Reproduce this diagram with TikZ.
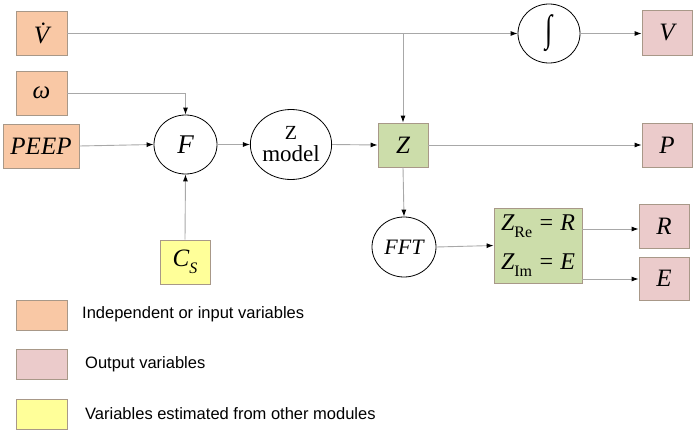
\documentclass[tikz,border=0pt]{standalone}
\usepackage{fontspec}
\setmainfont{Liberation Serif}
\newfontfamily\legendfont{Liberation Sans}
\usetikzlibrary{arrows.meta,calc,shapes.geometric}
\definecolor{inpc}{HTML}{F9C8A5}
\definecolor{outc}{HTML}{EBCBCB}
\definecolor{estc}{HTML}{FFFF99}
\definecolor{midc}{HTML}{CCDDAA}
\definecolor{bordc}{HTML}{A89888}
\definecolor{linec}{HTML}{A8A8A8}
\newcommand{\subsc}[1]{\raisebox{-0.28em}{\fontsize{16}{16}\selectfont #1}}
\tikzset{
  varbox/.style={draw=bordc, line width=0.8pt, minimum height=44pt, inner sep=0pt, font=\fontsize{25}{29}\selectfont\itshape},
  inbox/.style={varbox, fill=inpc},
  outbox/.style={varbox, fill=outc},
  estbox/.style={varbox, fill=estc},
  midbox/.style={varbox, fill=midc},
  opcirc/.style={ellipse, draw=black, line width=0.8pt, inner sep=0pt},
  conn/.style={draw=linec, line width=0.9pt, -{Latex[length=7pt,width=5pt,color=black]}},
  legbox/.style={draw=bordc, line width=0.8pt, minimum width=51pt, minimum height=30pt, inner sep=0pt},
  legtext/.style={anchor=west, font=\legendfont\fontsize{16.5}{19}\selectfont, inner sep=0pt}
}
\begin{document}
\begin{tikzpicture}[x=1pt,y=-1pt]
\useasboundingbox (0,0) rectangle (697,434);
% input boxes
\node[inbox, minimum width=51pt] (Vd) at (41.5,33) {\.V};
\node[inbox, minimum width=51pt] (om) at (41.5,93) {ω};
\node[inbox, minimum width=76pt] (peep) at (41,146) {PEEP};
\node[estbox, minimum width=50pt] (cs) at (185,262) {C\subsc{S}};
% circles
\node[opcirc, minimum width=63pt, minimum height=59pt, font=\fontsize{27}{30}\selectfont\itshape] (F) at (185.5,144.5) {F};
\node[opcirc, minimum width=74pt, minimum height=70pt, align=center, font=\fontsize{23}{22}\selectfont] (zm) at (291,144.5) {{\fontsize{20}{20}\selectfont Z}\\model};
\node[opcirc, minimum width=62pt, minimum height=59pt, font=\fontsize{26}{26}\selectfont] (int) at (549,33.5) {\scalebox{1}[1.45]{∫}};
\node[opcirc, minimum width=64pt, minimum height=60pt, font=\fontsize{22}{24}\selectfont\itshape] (fft) at (404,247) {FFT};
% middle boxes
\node[midbox, minimum width=50pt] (Z) at (403,145) {Z};
\node[midbox, minimum width=88pt, minimum height=75pt, align=left, font=\fontsize{24}{39}\selectfont\itshape] (zre) at (538,245.5) {Z\subsc{\upshape Re} = R\\Z\subsc{\upshape Im} = E};
% outputs
\node[outbox, minimum width=50pt, minimum height=45pt] (V) at (667,32.5) {V};
\node[outbox, minimum width=50pt] (P) at (667,145) {P};
\node[outbox, minimum width=50pt] (R) at (664,226) {R};
\node[outbox, minimum width=50pt, minimum height=43pt] (E) at (664,278.5) {E};
% connectors
\draw[conn] (Vd.east |- int.west) -- (int.west);
\coordinate (br) at (Z.north |- int.west);
\draw[conn] (br) -- (Z.north);
\draw[conn] (int.east) -- (V.west |- int.east);
\draw[conn] (om.east) -| (F.north);
\draw[conn] (peep.east) -- (F.west);
\draw[conn] (cs.north) -- (F.south);
\draw[conn] (F.east) -- (zm.west);
\draw[conn] (zm.east) -- (Z.west);
\draw[conn] (Z.east) -- (P.west);
\draw[conn] (Z.south) -- (fft.north);
\draw[conn] (fft.east) -- (zre.west);
\coordinate (rout) at ($(zre.east)+(0,-16.5)$);
\coordinate (eout) at ($(zre.east)+(0,33.5)$);
\draw[conn] (rout) -- (R.west |- rout);
\draw[conn] (eout) -- (E.west |- eout);
% legend
\node[legbox, fill=inpc] (l1) at (41.5,315) {};
\node[legtext] (t1) at (82,314) {Independent or input variables};
\node[legbox, fill=outc] (l2) at (41.5,364) {};
\node[legtext] (t2) at (85,364) {Output variables};
\node[legbox, fill=estc] (l3) at (41.5,414) {};
\node[legtext] (t3) at (85,414) {Variables estimated from other modules};
\end{tikzpicture}
\end{document}
